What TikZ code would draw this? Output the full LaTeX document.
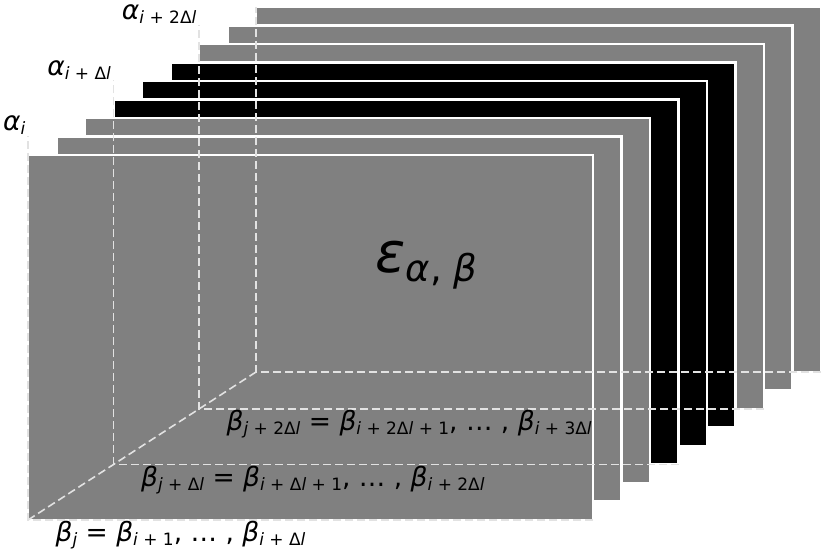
\documentclass[tikz,border=0pt]{standalone}
\usepackage{fontspec}
\setmainfont{DejaVu Sans}
\usetikzlibrary{positioning, calc}
\definecolor{cgrey}{HTML}{808080}
\definecolor{cdash}{HTML}{E2E2E2}
\tikzset{
  every picture/.style={line width=1.2pt},
  sheet/.style={fill=#1, draw=white, line width=2.5pt, inner sep=0pt, outer sep=0pt, minimum width=565pt, minimum height=365pt, anchor=south west},
  sheet/.default=cgrey,
  axis/.style={draw=cdash, line width=1.6pt, dash pattern=on 8pt off 4pt},
  lab/.style={inner sep=0pt, font=\fontsize{26.5pt}{26.5pt}\selectfont},
}
\newcommand{\lowidx}[1]{\raisebox{-4pt}{\fontsize{17pt}{17pt}\selectfont #1}}
\newcommand{\gb}{\textit{β}}
\begin{document}
\begin{tikzpicture}[x=1pt, y=1pt]
  \useasboundingbox (0,0) rectangle (827,554);

  % sheets, back to front
  \foreach \k/\c in {8/cgrey, 7/cgrey, 6/cgrey, 5/black, 4/black, 3/black, 2/cgrey, 1/cgrey, 0/cgrey}
    \node[sheet=\c] (s\k) at ({28+28.5*\k},{34+18.5*\k}) {};

  % axes
  \draw[axis] (s0.south west) -- (s8.south west);
  \foreach \k in {0,3,6}
    \draw[axis] (s\k.south east) -- (s\k.south west) -- ([yshift=19pt]s\k.north west) coordinate (top\k);
  \draw[axis] (s8.south east) -- (s8.south west) -- (s8.north west);

  % alpha labels
  \node[lab, anchor=base east] (al0) at ([shift={(-2pt,5pt)}]top0) {\textit{α}\lowidx{\textit{i}}};
  \node[lab, anchor=base east] (al3) at ([shift={(-2pt,5pt)}]top3) {\textit{α}\lowidx{\textit{i} + Δ\textit{l}}};
  \node[lab, anchor=base east] (al6) at ([shift={(-2pt,5pt)}]top6) {\textit{α}\lowidx{\textit{i} + 2Δ\textit{l}}};

  % beta labels
  \node[lab, anchor=north west] (be0) at ([shift={(27pt,-1pt)}]s0.south west)
    {\gb\lowidx{\textit{j}} = \gb\lowidx{\textit{i} + 1}, … , \gb\lowidx{\textit{i} + Δ\textit{l}}};
  \node[lab, anchor=north west] (be3) at ([shift={(27pt,-1pt)}]s3.south west)
    {\gb\lowidx{\textit{j} + Δ\textit{l}} = \gb\lowidx{\textit{i} + Δ\textit{l} + 1}, … , \gb\lowidx{\textit{i} + 2Δ\textit{l}}};
  \node[lab, anchor=north west] (be6) at ([shift={(27pt,-1pt)}]s6.south west)
    {\gb\lowidx{\textit{j} + 2Δ\textit{l}} = \gb\lowidx{\textit{i} + 2Δ\textit{l} + 1}, … , \gb\lowidx{\textit{i} + 3Δ\textit{l}}};

  % epsilon
  \node[inner sep=0pt, anchor=base west, font=\fontsize{56pt}{56pt}\selectfont] (eps) at (375,281)
    {\textit{ε}\raisebox{-9pt}{\fontsize{37pt}{37pt}\selectfont\textit{α}, \textit{β}}};
\end{tikzpicture}
\end{document}
